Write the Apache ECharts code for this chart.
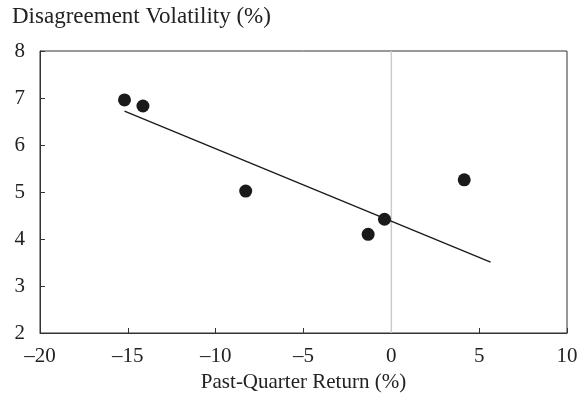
<!DOCTYPE html>
<html><head><meta charset="utf-8">
<script src="https://cdn.jsdelivr.net/npm/echarts@6/dist/echarts.min.js"></script>
<style>html,body{margin:0;padding:0;background:#fff}#c{width:586px;height:404px}</style>
</head><body><div id="c"></div>
<script>
const pastQuarterReturn = [-15.19, -14.14, -8.29, -1.32, -0.39, 4.15];
const disagreementVol = [6.96, 6.83, 5.02, 4.10, 4.42, 5.26];
const trendX = [-15.19, 5.65];
const trendY = [6.72, 3.51];
const xTicks = [-20, -15, -10, -5, 0, 5, 10];
const yTicks = [2, 3, 4, 5, 6, 7, 8];

const FONT = '"Liberation Serif", "DejaVu Serif", serif';
const chart = echarts.init(document.getElementById('c'));
chart.setOption({
  animation: false,
  backgroundColor: '#fff',
  grid: { left: 40, right: 19, top: 51, bottom: 71, show: true, borderColor: '#333', borderWidth: 1 },
  graphic: [
    { type: 'text', left: 12, top: 5, style: { text: 'Disagreement Volatility (%)', font: '23px ' + FONT, fill: '#222' } }
  ],
  xAxis: {
    type: 'value', min: xTicks[0], max: xTicks[xTicks.length - 1], interval: 5,
    name: 'Past-Quarter Return (%)', nameLocation: 'middle', nameGap: 39,
    nameTextStyle: { fontFamily: FONT, fontSize: 21, color: '#222' },
    axisLine: { onZero: false, lineStyle: { color: '#333' } },
    axisTick: { inside: true, length: 5, lineStyle: { color: '#333' } },
    axisLabel: { fontFamily: FONT, fontSize: 21, color: '#222', margin: 13,
      formatter: v => (v < 0 ? '\u2013' + Math.abs(v) : String(v)) },
    splitLine: { show: false }
  },
  yAxis: {
    type: 'value', min: yTicks[0], max: yTicks[yTicks.length - 1], interval: 1,
    axisLine: { show: true, onZero: false, lineStyle: { color: '#333' } },
    axisTick: { show: true, inside: true, length: 5, lineStyle: { color: '#333' } },
    axisLabel: { fontFamily: FONT, fontSize: 21, color: '#222', margin: 15 },
    splitLine: { show: false }
  },
  series: [
    {
      type: 'line', data: [[0, yTicks[0]], [0, yTicks[yTicks.length - 1]]],
      showSymbol: false, lineStyle: { color: '#cccccc', width: 1.5 }, silent: true, z: 1
    },
    {
      type: 'line', data: trendX.map((x, i) => [x, trendY[i]]),
      showSymbol: false, lineStyle: { color: '#1a1a1a', width: 1.3 }, z: 2
    },
    {
      type: 'scatter', data: pastQuarterReturn.map((x, i) => [x, disagreementVol[i]]),
      symbolSize: 13, itemStyle: { color: '#1a1a1a', opacity: 1 }, z: 3
    }
  ]
});
</script></body></html>
